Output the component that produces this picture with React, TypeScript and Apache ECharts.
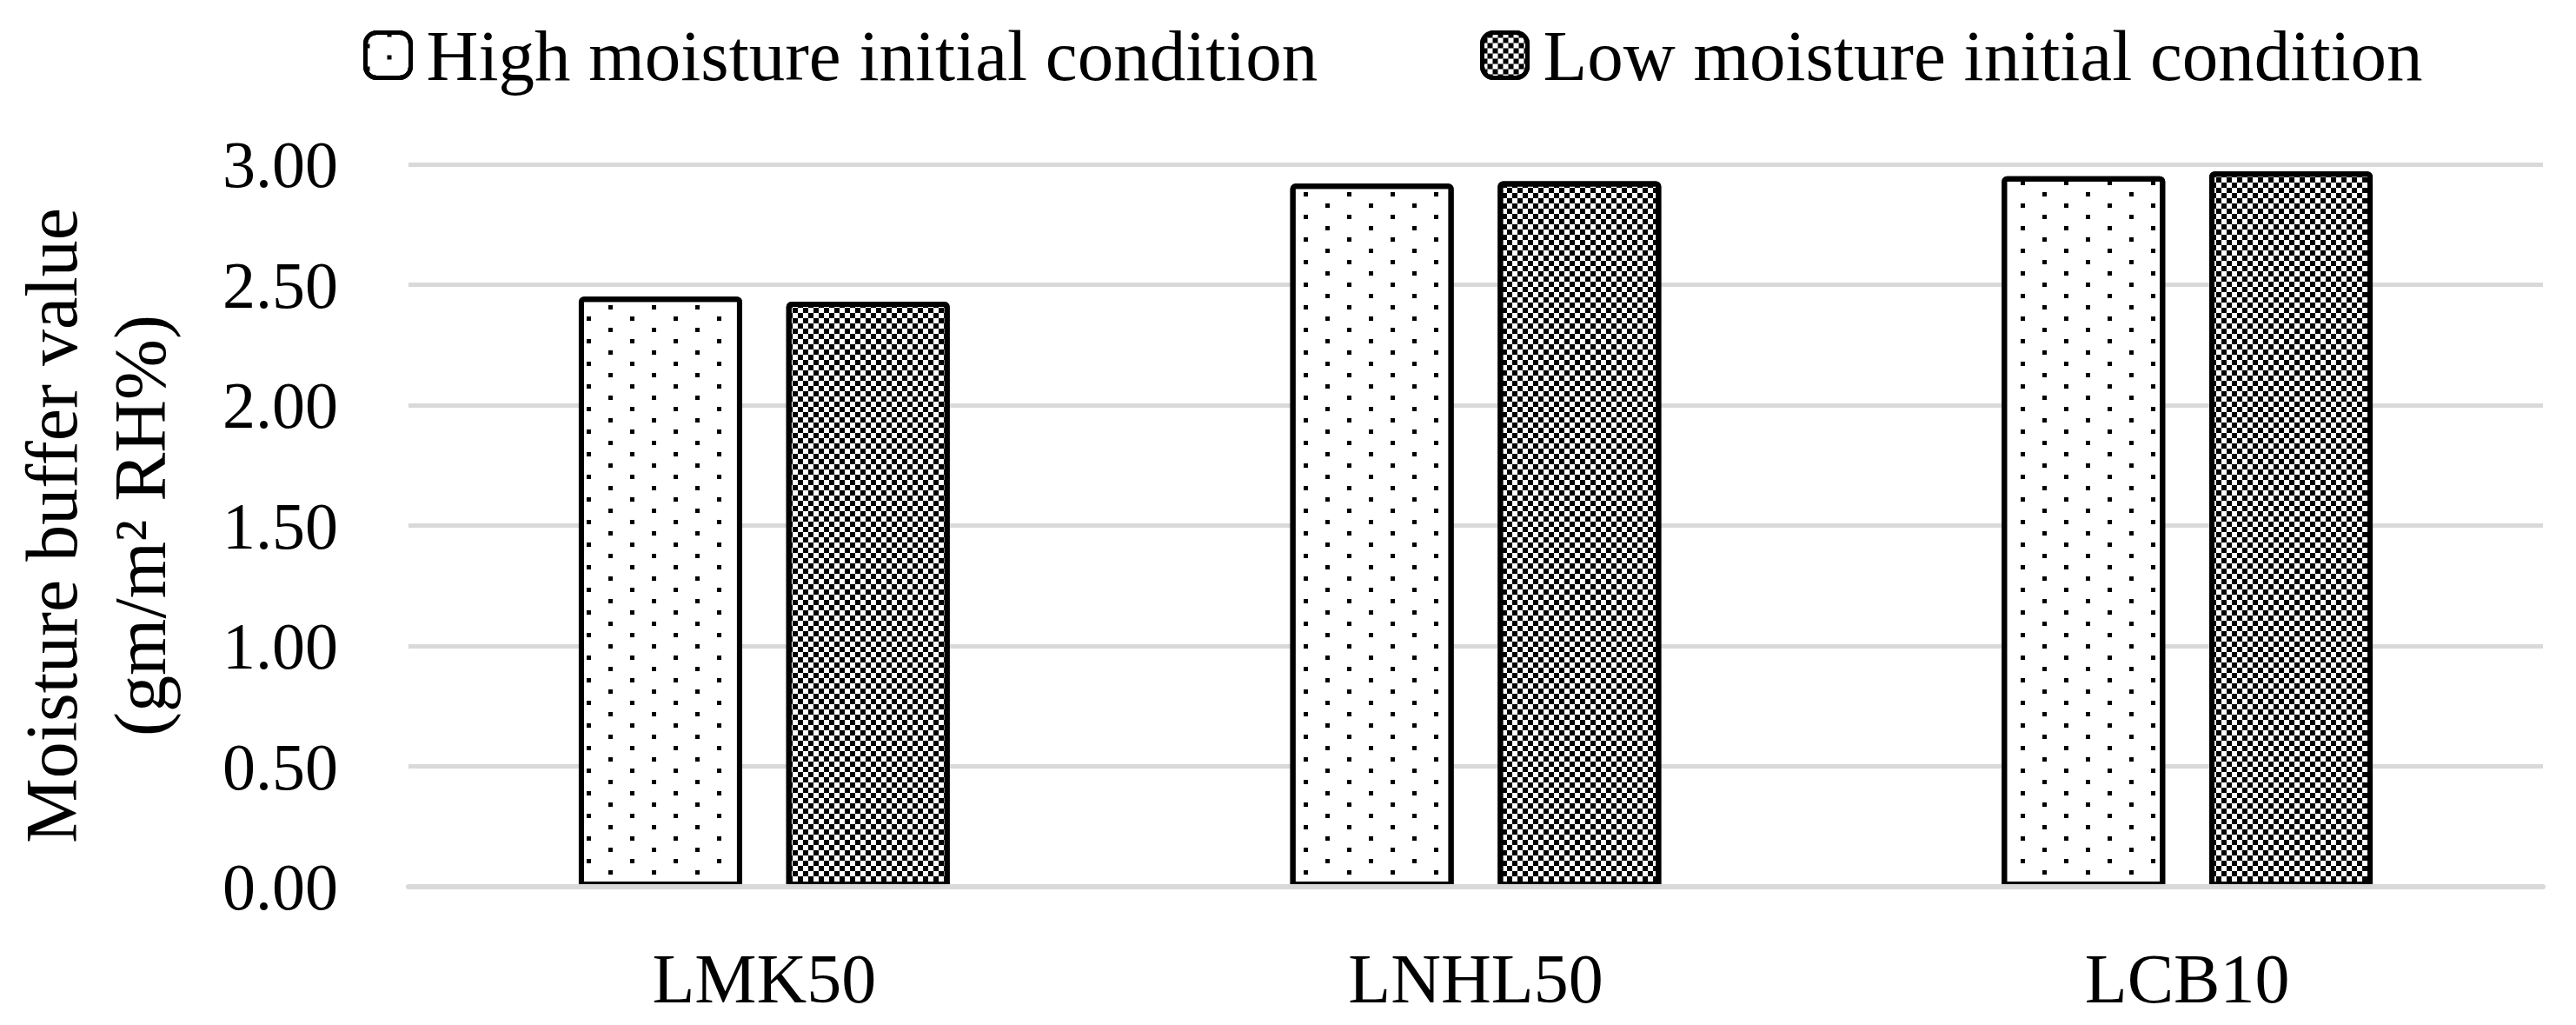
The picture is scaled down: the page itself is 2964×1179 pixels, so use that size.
import React, { useEffect, useRef } from "react";
import * as echarts from "echarts";

const categories = ["LMK50", "LNHL50", "LCB10"];
const highMoisture = [2.45, 2.92, 2.95];
const lowMoisture = [2.43, 2.93, 2.97];
const seriesNames = ["High moisture initial condition", "Low moisture initial condition"];
const yAxisTitle = "Moisture buffer value\n(gm/m² RH%)";
const yMin = 0;
const yMax = 3;
const yInterval = 0.5;

const FONT = "'Liberation Serif', 'Times New Roman', serif";
const GRID_GRAY = "#d9d9d9";

const dotDecal = {
  symbol: "rect",
  symbolSize: 1,
  symbolKeepAspect: false,
  color: "#000",
  backgroundColor: "#fff",
  dashArrayX: [
    [5, 45],
    [0, 25, 5, 20],
  ],
  dashArrayY: [5, 8],
  rotation: 0,
};

const checkDecal = {
  symbol: "rect",
  symbolSize: 1,
  symbolKeepAspect: false,
  color: "#000",
  backgroundColor: "#fff",
  dashArrayX: [
    [6, 6],
    [0, 6, 6, 0],
  ],
  dashArrayY: [6, 0],
  rotation: 0,
};

export default function App() {
  const ref = useRef<HTMLDivElement>(null);

  useEffect(() => {
    if (!ref.current) return;
    const chart = echarts.init(ref.current, undefined, { renderer: "svg" });
    const legendCommon = {
      top: 22,
      padding: 0,
      itemWidth: 52,
      itemHeight: 52,
      icon: "roundRect",
      itemStyle: { borderWidth: 5, borderColor: "#000" },
      textStyle: {
        fontFamily: FONT,
        fontSize: 83,
        color: "#000",
        padding: [0, 0, 0, 13],
      },
    };
    chart.setOption({
      animation: false,
      backgroundColor: "#fff",
      textStyle: { fontFamily: FONT },
      legend: [
        { ...legendCommon, left: 418, data: [seriesNames[0]] },
        { ...legendCommon, left: 1703, data: [seriesNames[1]] },
      ],
      grid: { left: 469, right: 38, top: 189, bottom: 159, containLabel: false },
      xAxis: {
        type: "category",
        data: categories,
        z: 10,
        axisLine: { show: true, lineStyle: { color: GRID_GRAY, width: 6 } },
        axisTick: { show: false },
        axisLabel: {
          margin: 66,
          fontSize: 80,
          fontFamily: FONT,
          color: "#000",
        },
      },
      yAxis: {
        type: "value",
        min: yMin,
        max: yMax,
        interval: yInterval,
        name: yAxisTitle,
        nameLocation: "middle",
        nameRotate: 90,
        nameGap: 258,
        nameTextStyle: {
          fontSize: 84,
          lineHeight: 102,
          fontFamily: FONT,
          color: "#000",
          align: "center",
        },
        axisLine: { show: false },
        axisTick: { show: false },
        splitLine: { lineStyle: { color: GRID_GRAY, width: 5 } },
        axisLabel: {
          margin: 81,
          fontSize: 76,
          fontFamily: FONT,
          color: "#000",
          formatter: (v: number) => v.toFixed(2),
        },
      },
      series: [
        {
          name: seriesNames[0],
          type: "bar",
          data: highMoisture,
          barWidth: 188,
          barGap: "27%",
          itemStyle: {
            color: "#fff",
            borderColor: "#000",
            borderWidth: 6,
            borderRadius: [3, 3, 0, 0],
            decal: dotDecal,
          },
        },
        {
          name: seriesNames[1],
          type: "bar",
          data: lowMoisture,
          barWidth: 188,
          barGap: "27%",
          itemStyle: {
            color: "#fff",
            borderColor: "#000",
            borderWidth: 6,
            borderRadius: [3, 3, 0, 0],
            decal: checkDecal,
          },
        },
      ],
    });
    return () => chart.dispose();
  }, []);

  return (
    <div
      ref={ref}
      style={{ position: "fixed", left: 0, top: 0, width: 2964, height: 1179 }}
    />
  );
}
